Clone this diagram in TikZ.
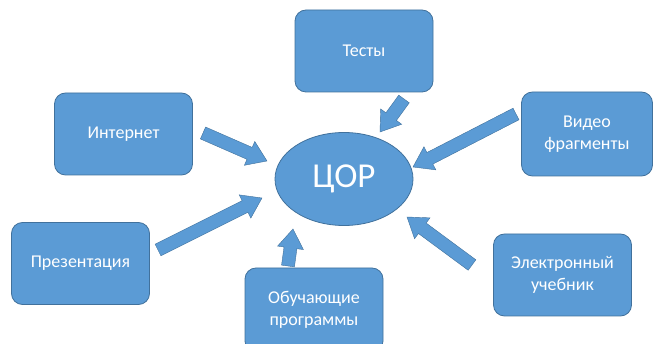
\documentclass[tikz,border=0pt]{standalone}
\usepackage{fontspec}
\setmainfont{Carlito}
\usetikzlibrary{calc,shapes.geometric}
\definecolor{boxfill}{HTML}{5B9BD5}
\definecolor{boxline}{HTML}{41719C}
\tikzset{
  infobox/.style={draw=boxline, line width=0.8pt, fill=boxfill, rounded corners=11pt,
    text=white, font=\fontsize{18}{21.5}\selectfont, align=center,
    minimum width=138pt, minimum height=82pt, inner sep=0pt},
  core/.style={ellipse, draw=boxline, line width=0.8pt, fill=boxfill, text=white,
    font=\fontsize{35}{40}\selectfont, minimum width=138pt, minimum height=93pt, inner sep=0pt},
  blockarrow/.style={fill=boxfill, draw=boxline, line width=0.4pt}
}
\newcommand{\barrow}[2]{%
  \path[blockarrow] let \p1=(#1), \p2=(#2),
    \n1={atan2(\y2-\y1,\x2-\x1)}, \n2={veclen(\x2-\x1,\y2-\y1)} in
    [shift={(\p1)}, rotate=\n1]
    (0pt,-6.5pt) -- ({\n2*1pt-19pt},-6.5pt) -- ({\n2*1pt-19pt},-13pt) -- ({\n2*1pt},0pt)
    -- ({\n2*1pt-19pt},13pt) -- ({\n2*1pt-19pt},6.5pt) -- (0pt,6.5pt) -- cycle;}
\begin{document}
\begin{tikzpicture}[x=1pt,y=-1pt]
\useasboundingbox (0,0) rectangle (653,344);
\clip (0,0) rectangle (653,344);
\node[infobox] (tests) at (364,51) {Тесты};
\node[infobox] (inet) at (123.5,134) {Интернет};
\node[infobox, minimum width=131pt, minimum height=84pt] (video) at (587,134) {Видео\\фрагменты};
\node[infobox] (pres) at (80.5,263.5) {Презентация};
\node[infobox, minimum height=84pt] (edu) at (314,310) {Обучающие\\программы};
\node[infobox] (ebook) at (562.5,275) {Электронный\\учебник};
\node[core] (cor) at (344,179) {ЦОР};
\coordinate (a1s) at (203,133); \coordinate (a1e) at (267,161);
\coordinate (a2s) at (404,99);  \coordinate (a2e) at (380,132);
\coordinate (a3s) at (516,114); \coordinate (a3e) at (413,167);
\coordinate (a4s) at (158,250); \coordinate (a4e) at (262,198);
\coordinate (a5s) at (288,266); \coordinate (a5e) at (293,229);
\coordinate (a6s) at (472,265); \coordinate (a6e) at (407,217);
\barrow{a1s}{a1e}
\barrow{a2s}{a2e}
\barrow{a3s}{a3e}
\barrow{a4s}{a4e}
\barrow{a5s}{a5e}
\barrow{a6s}{a6e}
\end{tikzpicture}
\end{document}
